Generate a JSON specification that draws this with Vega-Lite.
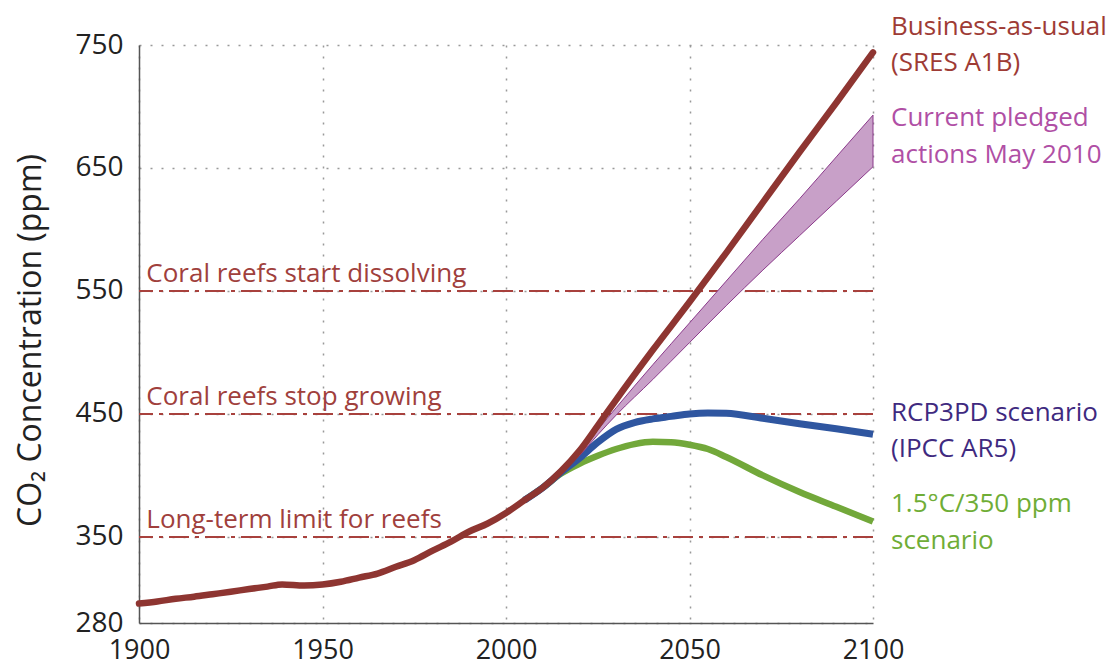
{
  "$schema": "https://vega.github.io/schema/vega-lite/v6.json",
  "width": 734,
  "height": 578,
  "autosize": "none",
  "padding": {"left": 139, "top": 45, "right": 247, "bottom": 43},
  "background": "white",
  "config": {
    "view": {"stroke": null},
    "font": "Open Sans",
    "axis": {"labelFont": "Open Sans", "titleFont": "Open Sans"}
  },
  "datasets": {
    "lines": [
      {"series": "bau", "year": 1900, "ppm": 295.8},
      {"series": "bau", "year": 1905, "ppm": 297.5},
      {"series": "bau", "year": 1910, "ppm": 299.7},
      {"series": "bau", "year": 1915, "ppm": 301.4},
      {"series": "bau", "year": 1920, "ppm": 303.4},
      {"series": "bau", "year": 1925, "ppm": 305.4},
      {"series": "bau", "year": 1930, "ppm": 307.6},
      {"series": "bau", "year": 1935, "ppm": 309.6},
      {"series": "bau", "year": 1939, "ppm": 311.4},
      {"series": "bau", "year": 1945, "ppm": 310.5},
      {"series": "bau", "year": 1950, "ppm": 311.3},
      {"series": "bau", "year": 1955, "ppm": 313.5},
      {"series": "bau", "year": 1960, "ppm": 316.9},
      {"series": "bau", "year": 1965, "ppm": 320.2},
      {"series": "bau", "year": 1970, "ppm": 325.7},
      {"series": "bau", "year": 1975, "ppm": 331.1},
      {"series": "bau", "year": 1980, "ppm": 338.8},
      {"series": "bau", "year": 1985, "ppm": 346.1},
      {"series": "bau", "year": 1990, "ppm": 354.4},
      {"series": "bau", "year": 1995, "ppm": 360.9},
      {"series": "bau", "year": 2000, "ppm": 369.5},
      {"series": "bau", "year": 2005, "ppm": 379.8},
      {"series": "bau", "year": 2010, "ppm": 390},
      {"series": "bau", "year": 2015, "ppm": 403.5},
      {"series": "bau", "year": 2020, "ppm": 420},
      {"series": "bau", "year": 2025, "ppm": 440.5},
      {"series": "bau", "year": 2030, "ppm": 461.5},
      {"series": "bau", "year": 2040, "ppm": 502},
      {"series": "bau", "year": 2050, "ppm": 541},
      {"series": "bau", "year": 2060, "ppm": 581},
      {"series": "bau", "year": 2070, "ppm": 622},
      {"series": "bau", "year": 2080, "ppm": 663},
      {"series": "bau", "year": 2090, "ppm": 703},
      {"series": "bau", "year": 2100, "ppm": 744},
      {"series": "rcp", "year": 2005, "ppm": 379.8},
      {"series": "rcp", "year": 2010, "ppm": 390},
      {"series": "rcp", "year": 2015, "ppm": 402.5},
      {"series": "rcp", "year": 2020, "ppm": 414},
      {"series": "rcp", "year": 2025, "ppm": 427},
      {"series": "rcp", "year": 2030, "ppm": 437.5},
      {"series": "rcp", "year": 2035, "ppm": 443},
      {"series": "rcp", "year": 2040, "ppm": 446},
      {"series": "rcp", "year": 2045, "ppm": 448},
      {"series": "rcp", "year": 2050, "ppm": 450},
      {"series": "rcp", "year": 2055, "ppm": 450.8},
      {"series": "rcp", "year": 2060, "ppm": 450.5},
      {"series": "rcp", "year": 2070, "ppm": 446.5},
      {"series": "rcp", "year": 2080, "ppm": 442},
      {"series": "rcp", "year": 2090, "ppm": 438},
      {"series": "rcp", "year": 2100, "ppm": 433.5},
      {"series": "green", "year": 2005, "ppm": 379.8},
      {"series": "green", "year": 2010, "ppm": 390},
      {"series": "green", "year": 2015, "ppm": 401.5},
      {"series": "green", "year": 2020, "ppm": 409.5},
      {"series": "green", "year": 2025, "ppm": 416},
      {"series": "green", "year": 2030, "ppm": 421.5},
      {"series": "green", "year": 2035, "ppm": 425.5},
      {"series": "green", "year": 2040, "ppm": 427.4},
      {"series": "green", "year": 2045, "ppm": 427},
      {"series": "green", "year": 2050, "ppm": 425},
      {"series": "green", "year": 2055, "ppm": 421.5},
      {"series": "green", "year": 2060, "ppm": 415},
      {"series": "green", "year": 2070, "ppm": 400},
      {"series": "green", "year": 2080, "ppm": 386.5},
      {"series": "green", "year": 2090, "ppm": 374.5},
      {"series": "green", "year": 2100, "ppm": 362.5}
    ],
    "band": [
      {"year": 2015, "lo": 402.5, "hi": 402.5},
      {"year": 2020, "lo": 416, "hi": 417},
      {"year": 2025, "lo": 433, "hi": 437},
      {"year": 2030, "lo": 449, "hi": 455},
      {"year": 2040, "lo": 478, "hi": 490},
      {"year": 2050, "lo": 508, "hi": 524},
      {"year": 2060, "lo": 538, "hi": 558},
      {"year": 2070, "lo": 567, "hi": 592},
      {"year": 2080, "lo": 595, "hi": 625},
      {"year": 2090, "lo": 623, "hi": 659},
      {"year": 2100, "lo": 651, "hi": 693}
    ],
    "thresholds": [
      {"ppm": 550, "label": "Coral reefs start dissolving"},
      {"ppm": 450, "label": "Coral reefs stop growing"},
      {"ppm": 350, "label": "Long-term limit for reefs"}
    ],
    "rightlabels": [
      {"group": "bau", "ppm": 764.6, "label": "Business-as-usual"},
      {"group": "bau", "ppm": 735.4, "label": "(SRES A1B)"},
      {"group": "pledge", "ppm": 690.6, "label": "Current pledged"},
      {"group": "pledge", "ppm": 660.6, "label": "actions May 2010"},
      {"group": "rcp", "ppm": 450.8, "label": "RCP3PD scenario"},
      {"group": "rcp", "ppm": 421.5, "label": "(IPCC AR5)"},
      {"group": "green", "ppm": 376.8, "label": "1.5°C/350 ppm"},
      {"group": "green", "ppm": 346.7, "label": "scenario"}
    ]
  },
  "layer": [
    {
      "data": {"name": "thresholds"},
      "mark": {"type": "rule", "color": "#A8413D", "strokeWidth": 2, "strokeDash": [20, 6, 4, 6]},
      "encoding": {
        "y": {
          "field": "ppm", "type": "quantitative",
          "scale": {"domain": [280, 750], "nice": false, "zero": false},
          "axis": {
            "values": [280, 350, 450, 550, 650, 750],
            "title": "CO₂ Concentration (ppm)",
            "titleFontSize": 32, "titleFontWeight": "normal", "titleColor": "#222",
            "titleX": -109, "titleY": 295, "titleAngle": -90, "titleAlign": "center", "titleBaseline": "middle",
            "labelFontSize": 28, "labelColor": "#222", "labelPadding": 16, "labelFlush": false,
            "ticks": false, "domainColor": "#555", "domainWidth": 1.5,
            "grid": true, "gridColor": "#999", "gridDash": [2, 9], "gridWidth": 1.5
          }
        }
      }
    },
    {
      "data": {"name": "lines"},
      "transform": [{"filter": "datum.series === 'green'"}],
      "mark": {"type": "line", "color": "#72A83A", "strokeWidth": 6.5, "interpolate": "monotone", "strokeCap": "butt"},
      "encoding": {
        "x": {
          "field": "year", "type": "quantitative",
          "scale": {"domain": [1900, 2100], "nice": false, "zero": false},
          "axis": {
            "values": [1900, 1950, 2000, 2050, 2100], "format": "d", "title": null,
            "labelFontSize": 27, "labelColor": "#222", "labelPadding": 14, "labelFlush": false,
            "ticks": false, "domainColor": "#555", "domainWidth": 1.5,
            "grid": true, "gridColor": "#999", "gridDash": [2, 9], "gridWidth": 1.5
          }
        },
        "y": {"field": "ppm", "type": "quantitative"}
      }
    },
    {
      "data": {"name": "lines"},
      "transform": [{"filter": "datum.series === 'rcp'"}],
      "mark": {"type": "line", "color": "#2F56A0", "strokeWidth": 7, "interpolate": "monotone", "strokeCap": "butt"},
      "encoding": {
        "x": {"field": "year", "type": "quantitative"},
        "y": {"field": "ppm", "type": "quantitative"}
      }
    },
    {
      "data": {"name": "band"},
      "mark": {"type": "area", "color": "#C8A0C8", "opacity": 1, "interpolate": "monotone", "stroke": "#8B3A8B", "strokeWidth": 1},
      "encoding": {
        "x": {"field": "year", "type": "quantitative"},
        "y": {"field": "lo", "type": "quantitative"},
        "y2": {"field": "hi"}
      }
    },
    {
      "data": {"name": "lines"},
      "transform": [{"filter": "datum.series === 'bau'"}],
      "mark": {"type": "line", "color": "#8E3531", "strokeWidth": 6.5, "interpolate": "monotone", "strokeCap": "round"},
      "encoding": {
        "x": {"field": "year", "type": "quantitative"},
        "y": {"field": "ppm", "type": "quantitative"}
      }
    },
    {
      "data": {"name": "thresholds"},
      "mark": {"type": "text", "align": "left", "baseline": "alphabetic", "dy": -9, "fontSize": 26, "font": "Open Sans", "color": "#A0403C"},
      "encoding": {
        "x": {"datum": 1902, "type": "quantitative"},
        "y": {"field": "ppm", "type": "quantitative"},
        "text": {"field": "label"}
      }
    },
    {
      "data": {"name": "rightlabels"},
      "mark": {"type": "text", "align": "left", "baseline": "middle", "dx": 18, "fontSize": 26, "font": "Open Sans"},
      "encoding": {
        "x": {"datum": 2100, "type": "quantitative"},
        "y": {"field": "ppm", "type": "quantitative"},
        "text": {"field": "label"},
        "color": {
          "field": "group", "type": "nominal", "legend": null,
          "scale": {"domain": ["bau", "pledge", "rcp", "green"], "range": ["#9E3B35", "#B04FA5", "#3F2A7F", "#6FAD36"]}
        }
      }
    }
  ]
}
